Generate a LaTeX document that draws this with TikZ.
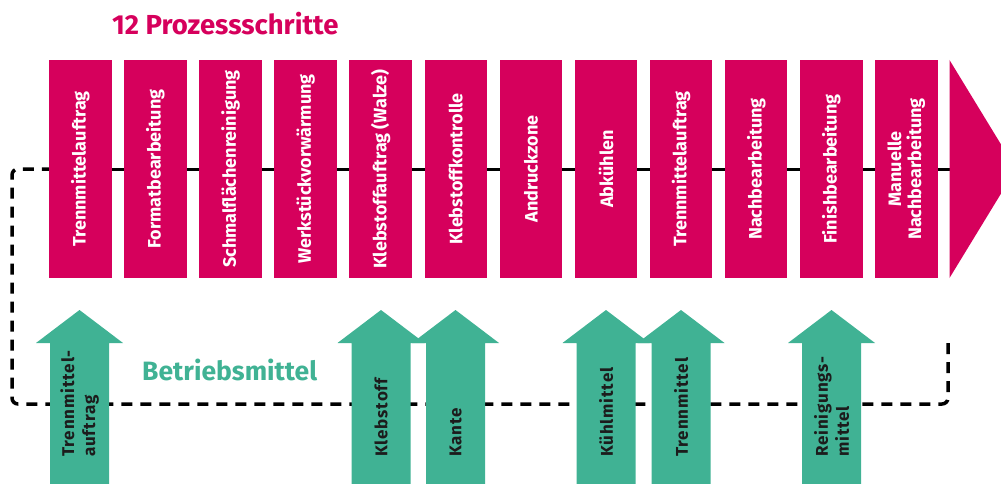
\documentclass[tikz,border=0pt]{standalone}
\usepackage{fontspec}
\setmainfont{Fira Sans}
\definecolor{mag}{RGB}{214,0,92}
\definecolor{grn}{RGB}{64,178,148}
\definecolor{atxt}{RGB}{28,28,28}
\begin{document}
\begin{tikzpicture}[x=1pt,y=-1pt,
  stepbox/.style={fill=mag, rotate=90, minimum width=218pt, minimum height=62.5pt,
    inner sep=0pt, text=white, align=center,
    font=\bfseries\fontsize{18}{20}\selectfont},
  arrowtxt/.style={rotate=90, anchor=west, inner sep=0pt, align=left, text=atxt,
    font=\fontseries{sb}\selectfont\fontsize{17}{21}\selectfont\addfontfeatures{LetterSpace=5}},
  flowline/.style={line width=3pt, black},
  loopline/.style={line width=3.5pt, black, dash pattern=on 11pt off 8pt, rounded corners=6pt},
  titletxt/.style={inner sep=0pt, anchor=base west, font=\bfseries\fontsize{27.5}{30}\selectfont},
  grouptxt/.style={inner sep=0pt, anchor=base west, font=\bfseries\fontsize{26.5}{30}\selectfont}
]
\useasboundingbox (0,0) rectangle (1001,484);
\clip (0,0) rectangle (1001,484);
% flow line and loop (behind everything)
\coordinate (tip) at (1016,169);
\coordinate (lp1) at (12,169);
\coordinate (lp2) at (12,404);
\coordinate (lp3) at (948,404);
\coordinate (lpend) at (948,343);
\coordinate (b1w) at (49,169);
\draw[loopline] (lpend) -- (lp3) -- (lp2) -- (lp1) -- (b1w);
\draw[flowline] (b1w) -- (tip);
% process steps
\foreach \i/\name/\txt in {
  0/s1/Trennmittelauftrag,
  1/s2/Formatbearbeitung,
  2/s3/Schmalflächenreinigung,
  3/s4/Werkstückvorwärmung,
  4/s5/Klebstoffauftrag (Walze),
  5/s6/Klebstoffkontrolle,
  6/s7/Andruckzone,
  7/s8/Abkühlen,
  8/s9/Trennmittelauftrag,
  9/s10/Nachbearbeitung,
  10/s11/Finishbearbeitung,
  11/s12/{Manuelle\\Nachbearbeitung}}
  \node[stepbox] (\name) at ({80.3+75.1*\i},169) {\txt};
% end triangle
\fill[mag] (949.5,60) -- (tip) -- (949.5,278) -- cycle;
\node[titletxt, text=mag] (title) at (112,35) {12 Prozessschritte};
% Betriebsmittel arrows
\foreach \c/\name/\txt in {
  79.5/m1/{Trennmittel-\\auftrag},
  381/m2/Klebstoff,
  455.5/m3/Kante,
  606/m4/Kühlmittel,
  681/m5/Trennmittel,
  831.5/m6/{Reinigungs-\\mittel}}{
  \fill[grn] (\c-29.5,484) -- (\c-29.5,343) -- (\c-43.5,343) -- (\c,310)
     -- (\c+43.5,343) -- (\c+29.5,343) -- (\c+29.5,484) -- cycle;
  \node[arrowtxt] (\name) at (\c,457) {\txt};
}
\node[grouptxt, text=grn] (bm) at (142,380) {Betriebsmittel};
\end{tikzpicture}
\end{document}
